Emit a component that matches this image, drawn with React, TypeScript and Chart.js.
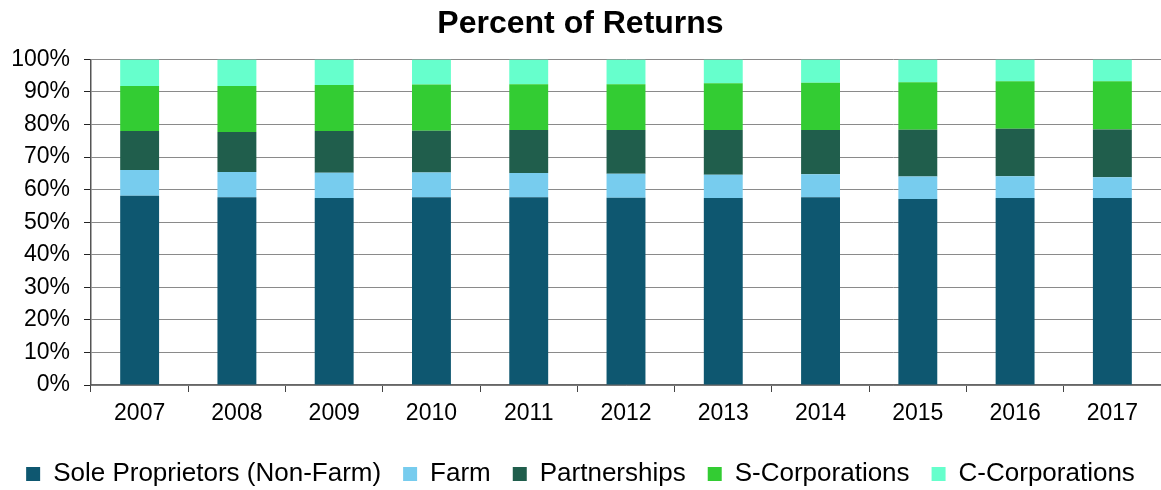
import React, { useEffect, useRef } from "react";
import { Chart, registerables } from "chart.js";

Chart.register(...registerables);

const years = ["2007", "2008", "2009", "2010", "2011", "2012", "2013", "2014", "2015", "2016", "2017"];
const soleProprietors = [58.1, 57.7, 57.4, 57.7, 57.7, 57.5, 57.4, 57.7, 57.1, 57.4, 57.4];
const farm = [7.9, 7.7, 7.8, 7.6, 7.4, 7.4, 7.2, 7.0, 6.9, 6.7, 6.4];
const partnerships = [12.0, 12.3, 12.8, 12.8, 13.2, 13.4, 13.7, 13.6, 14.4, 14.6, 14.7];
const sCorporations = [13.8, 14.1, 14.1, 14.2, 14.1, 14.1, 14.4, 14.5, 14.6, 14.6, 14.8];
const cCorporations = [8.2, 8.2, 7.9, 7.7, 7.6, 7.6, 7.3, 7.2, 7.0, 6.7, 6.7];
const yTicks = [0, 10, 20, 30, 40, 50, 60, 70, 80, 90, 100];

const FONT = "'Liberation Sans', Arial, sans-serif";

export default function App() {
  const ref = useRef<HTMLCanvasElement | null>(null);

  useEffect(() => {
    document.body.style.margin = "0";
    const canvas = ref.current;
    if (!canvas) return;
    const chart = new Chart(canvas, {
      type: "bar",
      data: {
        labels: years,
        datasets: [
          { label: "Sole Proprietors (Non-Farm)", data: soleProprietors, backgroundColor: "#0E5770" },
          { label: "Farm", data: farm, backgroundColor: "#77CCEE" },
          { label: "Partnerships", data: partnerships, backgroundColor: "#205E4C" },
          { label: "S-Corporations", data: sCorporations, backgroundColor: "#33CC33" },
          { label: "C-Corporations", data: cCorporations, backgroundColor: "#66FFCC" },
        ],
      },
      options: {
        responsive: false,
        animation: false,
        devicePixelRatio: 1,
        layout: { padding: 0 },
        datasets: {
          bar: { barPercentage: 0.4, categoryPercentage: 1.0, borderWidth: 0 },
        },
        plugins: {
          title: {
            display: true,
            text: "Percent of Returns",
            color: "#000",
            font: { family: FONT, size: 32, weight: "bold" },
            padding: { top: 5, bottom: 16 },
          },
          legend: {
            display: true,
            position: "bottom",
            maxHeight: 51,
            labels: {
              boxWidth: 14,
              boxHeight: 14,
              padding: 22,
              color: "#000",
              font: { family: FONT, size: 26 },
            },
          },
          tooltip: { enabled: false },
        },
        scales: {
          x: {
            stacked: true,
            grid: {
              offset: true,
              drawOnChartArea: false,
              drawTicks: true,
              tickLength: 7,
              color: "#444",
            },
            border: { color: "#666", width: 1.5 },
            ticks: {
              color: "#000",
              font: { family: FONT, size: 23 },
              padding: 8,
              maxRotation: 0,
              autoSkip: false,
            },
            afterFit: (scale: any) => {
              scale.height = 54;
            },
          },
          y: {
            stacked: true,
            min: 0,
            max: 100,
            grid: {
              color: "#8a8a8a",
              lineWidth: 1,
              tickLength: 7,
              tickColor: "#222",
            },
            border: { color: "#555", width: 1.5 },
            afterBuildTicks: (scale: any) => {
              scale.ticks = yTicks.map((v) => ({ value: v }));
            },
            ticks: {
              color: "#000",
              font: { family: FONT, size: 23 },
              padding: 14,
              callback: (v: any) => `${v}%`,
            },
            afterFit: (scale: any) => {
              scale.width = 91;
            },
          },
        },
      },
    });
    return () => chart.destroy();
  }, []);

  return (
    <div style={{ width: 1161, height: 490, background: "#fff" }}>
      <canvas ref={ref} width={1161} height={490} style={{ display: "block" }} />
    </div>
  );
}
